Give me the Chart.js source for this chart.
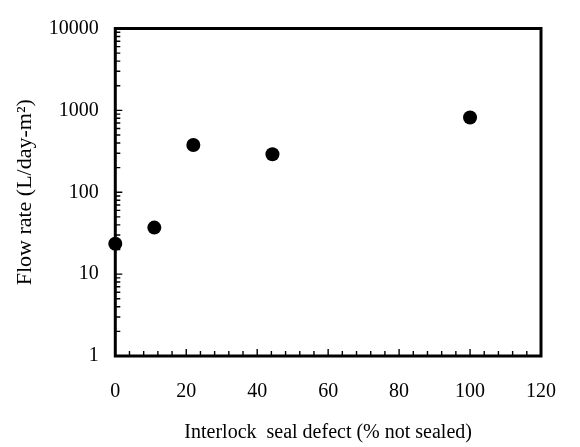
<!DOCTYPE html>
<html>
<head>
<meta charset="utf-8">
<script src="https://cdn.jsdelivr.net/npm/chart.js@4/dist/chart.umd.min.js"></script>
<style>
  html, body { margin: 0; padding: 0; background: #fff; }
  #wrap { width: 580px; height: 447px; }
</style>
</head>
<body>
<div id="wrap"><canvas id="c" width="580" height="447"></canvas></div>
<script>
// Measured flow rate versus the share of interlock seal left unsealed
const sealDefect = [0, 11, 22, 44.3, 100];          // % not sealed
const flowRate   = [23.5, 37, 377, 291, 817];         // L/day-m²
const xTickValues = [0, 20, 40, 60, 80, 100, 120];
const yTickValues = [1, 10, 100, 1000, 10000];
const xTitle = 'Interlock  seal defect (% not sealed)';
const yTitle = 'Flow rate (L/day-m\u00B2)';

const SERIF = '"Liberation Serif", "Times New Roman", serif';
const TICK_FONT = { family: SERIF, size: 20 };
const XTITLE_FONT = { family: SERIF, size: 20 };
const YTITLE_FONT = { family: SERIF, size: 22 };

// Plot frame plus short inward tick marks (major and minor)
const frameAndTicks = {
  id: 'frameAndTicks',
  beforeDatasetsDraw(chart) {
    const { ctx, chartArea: a, scales: { x, y } } = chart;
    ctx.save();
    ctx.strokeStyle = '#000';
    ctx.lineWidth = 1.4;
    ctx.beginPath();
    for (let v = x.min; v <= x.max; v += 4) {
      const px = x.getPixelForValue(v);
      const len = v % 20 === 0 ? 7 : 5;
      ctx.moveTo(px, a.bottom);
      ctx.lineTo(px, a.bottom - len);
    }
    for (let d = 1; d < y.max; d *= 10) {
      for (let k = 1; k <= 9; k++) {
        const py = y.getPixelForValue(d * k);
        const len = k === 1 ? 7 : 5;
        ctx.moveTo(a.left, py);
        ctx.lineTo(a.left + len, py);
      }
    }
    ctx.stroke();
    ctx.lineWidth = 3;
    ctx.strokeRect(a.left, a.top, a.right - a.left, a.bottom - a.top);
    ctx.restore();
  }
};

new Chart(document.getElementById('c'), {
  type: 'scatter',
  data: {
    datasets: [{
      data: sealDefect.map((v, i) => ({ x: v, y: flowRate[i] })),
      backgroundColor: '#000',
      borderColor: '#000',
      borderWidth: 0,
      pointRadius: 7,
      pointHoverRadius: 7,
      clip: false
    }]
  },
  options: {
    responsive: false,
    animation: false,
    events: [],
    layout: { padding: { top: 19.5, right: 18.3, left: 0, bottom: 0 } },
    plugins: { legend: { display: false }, tooltip: { enabled: false } },
    scales: {
      x: {
        type: 'linear',
        min: 0, max: 120,
        afterBuildTicks: s => { s.ticks = xTickValues.map(v => ({ value: v })); },
        afterFit: s => { s.height = 91; },
        grid: { display: false, drawTicks: false },
        border: { display: false },
        ticks: { color: '#000', font: TICK_FONT, padding: 24, maxRotation: 0 },
        title: { display: true, text: xTitle, color: '#000', font: XTITLE_FONT, padding: { top: 0, bottom: 2.3 } }
      },
      y: {
        type: 'logarithmic',
        min: 1, max: 10000,
        afterBuildTicks: s => { s.ticks = yTickValues.map(v => ({ value: v })); },
        afterFit: s => { s.width = 115.3; },
        grid: { display: false, drawTicks: false },
        border: { display: false },
        ticks: { color: '#000', font: TICK_FONT, padding: 16.5, callback: v => String(v) },
        title: { display: true, text: yTitle, color: '#000', font: YTITLE_FONT, padding: { top: 11.9, bottom: 0 } }
      }
    }
  },
  plugins: [frameAndTicks]
});
</script>
</body>
</html>
